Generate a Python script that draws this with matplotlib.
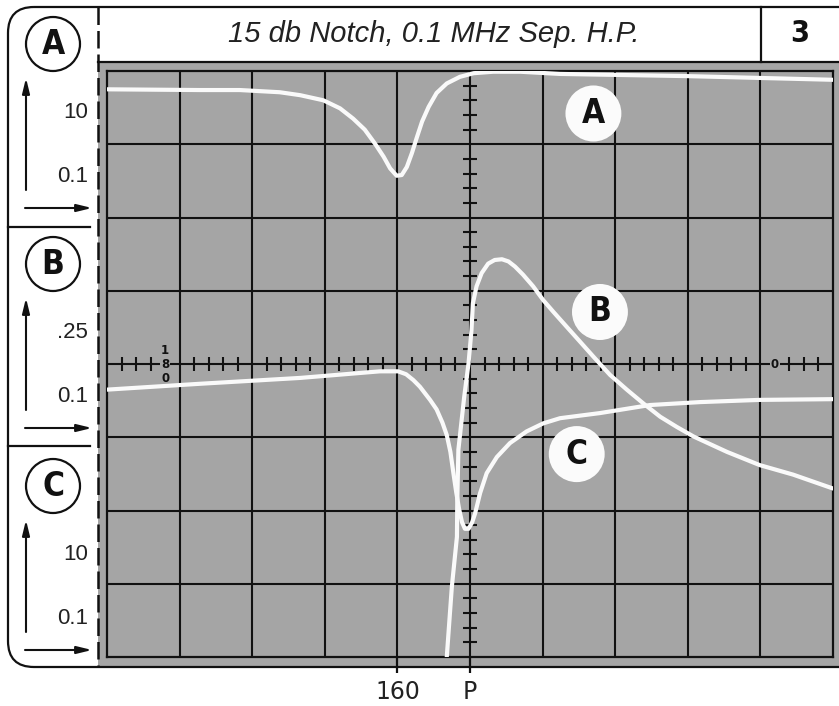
import matplotlib.pyplot as plt
import matplotlib.patches as mpatches
import numpy as np

# traces, in screen divisions (10 across, 8 up)
a_x = [0.0, 1.28, 1.83, 2.38, 2.66, 2.98, 3.21, 3.39, 3.55, 3.69, 3.81, 3.90, 3.99, 4.06, 4.13, 4.20,
       4.27, 4.34, 4.43, 4.54, 4.68, 4.86, 5.05, 5.32, 5.69, 6.24, 8.0, 10.0]
a_y = [7.75, 7.74, 7.74, 7.71, 7.67, 7.60, 7.49, 7.35, 7.20, 7.01, 6.83, 6.67, 6.57, 6.58, 6.69, 6.88,
       7.10, 7.31, 7.51, 7.70, 7.83, 7.92, 7.97, 7.99, 7.99, 7.96, 7.93, 7.88]

b_x = [4.68, 4.75, 4.82, 4.825, 4.84, 4.87, 4.92, 4.98, 5.02, 5.04, 5.09, 5.16, 5.25, 5.34, 5.44, 5.53,
       5.62, 5.73, 5.87, 6.01, 6.15, 6.33, 6.52, 6.70, 6.93, 7.16, 7.39, 7.62, 7.85, 8.08, 8.54, 8.99,
       9.45, 10.0]
b_y = [0.0, 0.96, 1.64, 2.14, 2.83, 3.10, 3.55, 4.01, 4.46, 4.83, 5.06, 5.24, 5.37, 5.42, 5.43, 5.40,
       5.33, 5.22, 5.06, 4.87, 4.71, 4.51, 4.30, 4.10, 3.85, 3.65, 3.46, 3.28, 3.14, 3.01, 2.80, 2.62,
       2.49, 2.30]

c_x = [0.0, 1.28, 2.66, 3.76, 4.01, 4.12, 4.22, 4.31, 4.45, 4.54, 4.62, 4.68, 4.73, 4.77, 4.81, 4.85,
       4.89, 4.93, 4.98, 5.03, 5.07, 5.14, 5.23, 5.37, 5.55, 5.78, 6.01, 6.24, 6.79, 7.48, 8.17, 8.99, 10.0]
c_y = [3.65, 3.73, 3.81, 3.90, 3.90, 3.86, 3.78, 3.69, 3.51, 3.38, 3.20, 3.03, 2.80, 2.52, 2.25, 2.02,
       1.84, 1.75, 1.75, 1.84, 1.96, 2.24, 2.51, 2.73, 2.92, 3.08, 3.19, 3.26, 3.33, 3.44, 3.48, 3.51, 3.52]

trace_names = ['A', 'B', 'C']
label_pos = [(6.70, 7.42), (6.79, 4.71), (6.47, 2.77)]

freq_ticks = [4, 5]
freq_labels = ['160', 'P']

title = '15 db Notch, 0.1 MHz Sep. H.P.'
page = '3'

# left scale boxes
scale_labels = [('10', '0.1'), ('.25', '0.1'), ('10', '0.1')]

gray = '#a5a5a5'
sans = ['Liberation Sans', 'DejaVu Sans']

fig = plt.figure(figsize=(8.39, 7.06), dpi=100)

# page furniture in pixel coordinates
ax0 = fig.add_axes([0, 0, 1, 1])
ax0.set_xlim(0, 839)
ax0.set_ylim(706, 0)
ax0.axis('off')

ax0.add_patch(mpatches.Rectangle((98, 62), 750, 605, fc=gray, ec='none'))
ax0.add_patch(mpatches.FancyBboxPatch((8, 7), 860, 660, boxstyle='round,pad=0,rounding_size=26',
                                      fc='none', ec='#111111', lw=1.6))
ax0.plot([98, 839], [62, 62], color='#111111', lw=1.6)
ax0.plot([761, 761], [7, 62], color='#111111', lw=1.6)
ax0.plot([98, 98], [7, 667], color='#111111', lw=1.8, ls=(0, (7, 2.4)))
for yy in [227, 446]:
    ax0.plot([8, 90], [yy, yy], color='#111111', lw=1.6)

ax0.text(434, 34, title, ha='center', va='center', fontsize=21, style='italic',
         family=sans, color='#222222')
ax0.text(800, 33, page, ha='center', va='center', fontsize=22, weight='bold',
         family='DejaVu Sans', stretch='condensed', color='#111111')

sections = [0, 220, 442]
for i, name in enumerate(trace_names):
    off = sections[i]
    ax0.add_patch(mpatches.Circle((53, 44 + off), 27, fc='white', ec='#111111', lw=1.6))
    ax0.text(53, 45 + off, name, ha='center', va='center', fontsize=24, weight='bold',
             family='DejaVu Sans', stretch='condensed', color='#111111')
    ax0.annotate('', xy=(26, 78 + off), xytext=(26, 190 + off),
                 arrowprops=dict(arrowstyle='-|>,head_length=0.9,head_width=0.22', lw=1.5,
                                 color='#111111', shrinkA=0, shrinkB=0))
    ax0.annotate('', xy=(92, 208 + off), xytext=(25, 208 + off),
                 arrowprops=dict(arrowstyle='-|>,head_length=0.9,head_width=0.22', lw=1.5,
                                 color='#111111', shrinkA=0, shrinkB=0))
    hi, lo = scale_labels[i]
    ax0.text(88, 112 + off, hi, ha='right', va='center', fontsize=16, family=sans, color='#222222')
    ax0.text(88, 177 + off, lo, ha='right', va='center', fontsize=16, family=sans, color='#222222')

# scope graticule
ax = fig.add_axes([107 / 839, 49 / 706, 726 / 839, 586 / 706])
ax.set_xlim(0, 10)
ax.set_ylim(0, 8)
ax.set_facecolor(gray)
for v in range(1, 10):
    ax.axvline(v, color='#111111', lw=1.5, zorder=1)
for h in range(1, 8):
    ax.axhline(h, color='#111111', lw=1.5, zorder=1)
for s in ax.spines.values():
    s.set_linewidth(1.6)
    s.set_color('#111111')

h_ticks = [t for t in np.arange(0.2, 10, 0.2)
           if abs(t - round(t)) > 0.05 and abs(t - 0.8) > 0.05 and abs(t - 9.2) > 0.05]
v_ticks = [t for t in np.arange(0.2, 8, 0.2) if abs(t - round(t)) > 0.05]
ax.vlines(h_ticks, 4 - 0.095, 4 + 0.095, color='#111111', lw=1.5, zorder=1)
ax.hlines(v_ticks, 5 - 0.095, 5 + 0.095, color='#111111', lw=1.5, zorder=1)

box = dict(fc=gray, ec='none', pad=0.6)
ax.text(0.8, 4.19, '1', ha='center', va='center', fontsize=8.5, weight='bold', color='#111111')
ax.text(0.8, 4.0, '8', ha='center', va='center', fontsize=8.5, weight='bold', color='#111111', bbox=box)
ax.text(0.8, 3.80, '0', ha='center', va='center', fontsize=8.5, weight='bold', color='#111111')
ax.text(9.2, 4.0, '0', ha='center', va='center', fontsize=8.5, weight='bold', color='#111111', bbox=box)

for xs, ys in [(a_x, a_y), (b_x, b_y), (c_x, c_y)]:
    ax.plot(xs, ys, color='#fafafa', lw=3, solid_capstyle='round', solid_joinstyle='round', zorder=3)

for name, (lx, ly) in zip(trace_names, label_pos):
    ax.add_patch(mpatches.Ellipse((lx, ly), 0.77, 0.765, fc='#fbfbfb', ec='none', zorder=4))
    ax.text(lx, ly, name, ha='center', va='center', fontsize=24, weight='bold',
            family='DejaVu Sans', stretch='condensed', color='#111111', zorder=5)

ax.set_xticks(freq_ticks, freq_labels)
ax.set_yticks([])
ax.tick_params(axis='x', direction='out', length=11.5, width=1.6, pad=5, labelsize=17,
               color='#111111', labelcolor='#222222')

fig.savefig('out.png', dpi=100)
